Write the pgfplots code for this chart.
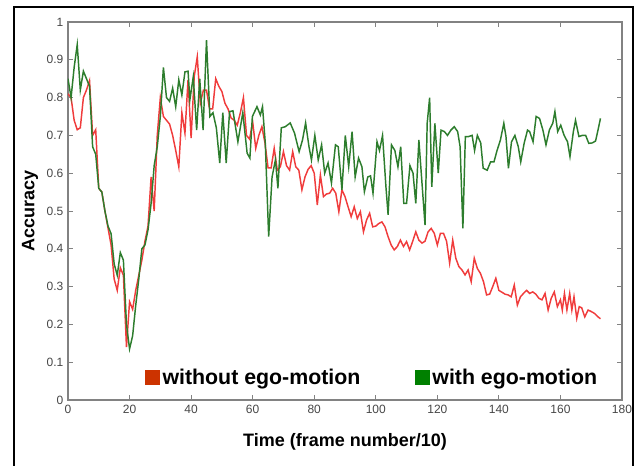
\documentclass[border=0pt]{standalone}
\usepackage{pgfplots}
\pgfplotsset{compat=1.18}
\usepackage{fontspec}
\setmainfont{Liberation Sans}
\definecolor{redline}{RGB}{240,60,60}
\definecolor{greenline}{RGB}{45,125,45}
\definecolor{legred}{RGB}{204,51,0}
\definecolor{leggreen}{RGB}{0,128,0}
\definecolor{axgray}{RGB}{130,130,130}
\definecolor{ticktxt}{RGB}{70,70,70}
\begin{document}
\begin{tikzpicture}[x=1pt,y=1pt]
\useasboundingbox (-51,-49.5) rectangle (429.75,300);
\draw[line width=1.6pt] (-40.5,-60) -- (-40.5,294.5) -- (423.5,294.5) -- (423.5,-60);
\begin{axis}[
  at={(0,0)}, anchor=south west,
  scale only axis, width=415.5pt, height=283.5pt,
  xmin=0, xmax=180, ymin=0, ymax=1,
  xtick={0,20,...,180},
  ytick={0,0.1,...,1},
  yticklabels={0,0.1,0.2,0.3,0.4,0.5,0.6,0.7,0.8,0.9,1},
  tick align=inside,
  major tick length=3.5pt,
  axis line style={axgray, line width=0.8pt},
  every tick/.style={axgray, line width=0.6pt},
  tick label style={font=\fontsize{9}{10}\selectfont, text=ticktxt},
  /pgf/number format/assume math mode=true,
  xlabel={\textbf{Time (frame number/10)}},
  ylabel={\textbf{Accuracy}},
  label style={font=\fontsize{13.5}{15}\selectfont},
  xlabel style={at={(axis description cs:0.5,0)}, anchor=center, yshift=-31.5pt},
  ylabel style={at={(axis description cs:-0.0686,0.5)}, anchor=center},
  legend style={at={(axis cs:25,0.06)}, anchor=west, draw=none, fill=none,
    legend columns=2, font=\bfseries\fontsize{16}{18}\selectfont,
    /tikz/every even column/.append style={column sep=39pt},
    inner sep=0pt},
  legend cell align=left,
  legend image code/.code={\fill[#1] (0pt,-5.5pt) rectangle (11pt,5.5pt);},
]
\addlegendimage{fill=legred, draw=none}
\addlegendentry{without ego-motion}
\addlegendimage{fill=leggreen, draw=none}
\addlegendentry{with ego-motion}

\addplot[redline, line width=1.1pt, forget plot] coordinates {
(0,0.81)(1,0.80)(2,0.74)(3,0.715)(4,0.72)(5,0.80)(6,0.82)(7,0.845)(8,0.70)(9,0.715)
(10,0.56)(11,0.55)(12,0.50)(13,0.455)(14,0.41)(15,0.32)(16,0.29)(17,0.35)(18,0.33)(19,0.14)
(20,0.26)(21,0.24)(22,0.29)(23,0.33)(24,0.37)(25,0.42)(26,0.46)(27,0.59)(28,0.50)(29,0.70)
(30,0.80)(31,0.75)(32,0.74)(33,0.73)(34,0.70)(35,0.66)(36,0.617)(37,0.76)(38,0.706)(39,0.847)
(40,0.693)(41,0.855)(42,0.908)(43,0.785)(44,0.82)(45,0.82)(46,0.77)(47,0.77)(48,0.85)(49,0.83)
(50,0.816)(51,0.785)(52,0.77)(53,0.746)(54,0.74)(55,0.727)(56,0.76)(57,0.80)(58,0.70)(59,0.69)
(60,0.736)(61,0.666)(62,0.70)(63,0.723)(64,0.68)(65,0.614)(66,0.614)(67,0.666)(68,0.608)(69,0.617)
(70,0.657)(71,0.62)(72,0.608)(73,0.657)(74,0.617)(75,0.608)(76,0.556)(77,0.59)(78,0.61)(79,0.62)
(80,0.60)(81,0.516)(82,0.595)(83,0.538)(84,0.545)(85,0.547)(86,0.56)(87,0.547)(88,0.498)(89,0.556)
(90,0.538)(91,0.511)(92,0.485)(93,0.511)(94,0.48)(95,0.498)(96,0.445)(97,0.476)(98,0.494)(99,0.458)
(100,0.46)(101,0.467)(102,0.471)(103,0.458)(104,0.432)(105,0.41)(106,0.397)(107,0.406)(108,0.423)(109,0.406)
(110,0.419)(111,0.397)(112,0.42)(113,0.445)(114,0.423)(115,0.415)(116,0.42)(117,0.445)(118,0.454)(119,0.441)
(120,0.41)(121,0.441)(122,0.441)(123,0.42)(124,0.362)(125,0.423)(126,0.375)(127,0.353)(128,0.344)(129,0.331)
(130,0.344)(131,0.313)(132,0.375)(133,0.348)(134,0.335)(135,0.313)(136,0.278)(137,0.28)(138,0.30)(139,0.322)
(140,0.29)(141,0.285)(142,0.28)(143,0.278)(144,0.273)(145,0.304)(146,0.251)(147,0.273)(148,0.282)(149,0.29)
(150,0.282)(151,0.286)(152,0.28)(153,0.269)(154,0.265)(155,0.282)(156,0.238)(157,0.269)(158,0.286)(159,0.247)
(160,0.265)(160.6,0.238)(161.3,0.282)(162.1,0.238)(163,0.282)(163.7,0.238)(164.4,0.273)(165.3,0.216)(166.1,0.247)(166.9,0.244)
(167.9,0.22)(169,0.238)(170,0.234)(171.1,0.229)(172.2,0.22)(173,0.215)
};

\addplot[greenline, line width=1.1pt, forget plot] coordinates {
(0,0.85)(1,0.80)(2,0.88)(3,0.94)(4,0.82)(5,0.87)(6,0.85)(7,0.83)(8,0.67)(9,0.65)
(10,0.56)(11,0.55)(12,0.50)(13,0.46)(14,0.44)(15,0.36)(16,0.33)(17,0.39)(18,0.37)(19,0.20)
(20,0.135)(21,0.17)(22,0.25)(23,0.32)(24,0.40)(25,0.41)(26,0.45)(27,0.52)(28,0.62)(29,0.67)
(30,0.75)(31,0.88)(32,0.80)(33,0.79)(34,0.825)(35,0.776)(36,0.847)(37,0.807)(38,0.868)(39,0.87)
(39.6,0.794)(40.7,0.855)(41.8,0.714)(42.8,0.85)(43.9,0.714)(45,0.952)(46.1,0.75)(47.1,0.76)(48.2,0.72)(49.3,0.627)
(50.3,0.76)(51.4,0.627)(52.5,0.763)(53.6,0.765)(55.2,0.683)(56.8,0.76)(58.2,0.653)(59.1,0.64)(59.9,0.75)(61.4,0.776)
(62.5,0.754)(63.2,0.776)(64.1,0.68)(65.2,0.432)(66.3,0.59)(67.4,0.635)(68.2,0.56)(69.3,0.72)(70.6,0.723)(72.2,0.733)
(73.6,0.706)(75.1,0.657)(76.2,0.688)(77.2,0.733)(78.3,0.67)(79.1,0.635)(80.2,0.70)(81.3,0.635)(82.4,0.675)(83.4,0.60)
(84.5,0.627)(85.6,0.574)(86.9,0.675)(87.8,0.67)(89,0.556)(90.1,0.70)(91.2,0.617)(92.3,0.71)(93.3,0.59)(94.4,0.64)
(95.5,0.617)(96.3,0.551)(97.4,0.59)(98.3,0.593)(99.1,0.547)(100.4,0.683)(101.2,0.66)(102.2,0.70)(103.3,0.564)(104,0.49)
(105.1,0.675)(106.2,0.66)(107.2,0.617)(108.1,0.67)(109.1,0.52)(110,0.52)(111.1,0.62)(112.1,0.60)(113,0.52)(114,0.688)
(115.1,0.564)(116,0.463)(116.7,0.732)(117.5,0.80)(118.2,0.564)(119.2,0.732)(120.3,0.60)(121.2,0.714)(122.3,0.71)(123.3,0.70)
(124.4,0.714)(125.5,0.723)(126.6,0.71)(127.4,0.67)(128.3,0.454)(129.1,0.697)(130.2,0.697)(131.3,0.70)(132.1,0.66)(133,0.70)
(134.1,0.68)(134.9,0.613)(136.2,0.608)(137.3,0.63)(138.4,0.63)(139.4,0.66)(140.5,0.688)(141.6,0.732)(142.3,0.697)(143.1,0.613)
(144.1,0.683)(145.2,0.70)(146.3,0.67)(147.1,0.63)(148.2,0.679)(149.3,0.714)(150,0.71)(151.1,0.683)(152.1,0.75)(153.2,0.745)
(154.3,0.714)(155.3,0.675)(156.4,0.714)(157.5,0.732)(158.2,0.763)(159.1,0.71)(160.1,0.727)(161.2,0.70)(162.3,0.683)(163.1,0.644)
(164.2,0.71)(164.9,0.74)(166,0.697)(167.1,0.70)(168.2,0.70)(169.2,0.679)(170.3,0.68)(171.4,0.685)(172.2,0.714)(173,0.745)
};
\end{axis}
\end{tikzpicture}
\end{document}
